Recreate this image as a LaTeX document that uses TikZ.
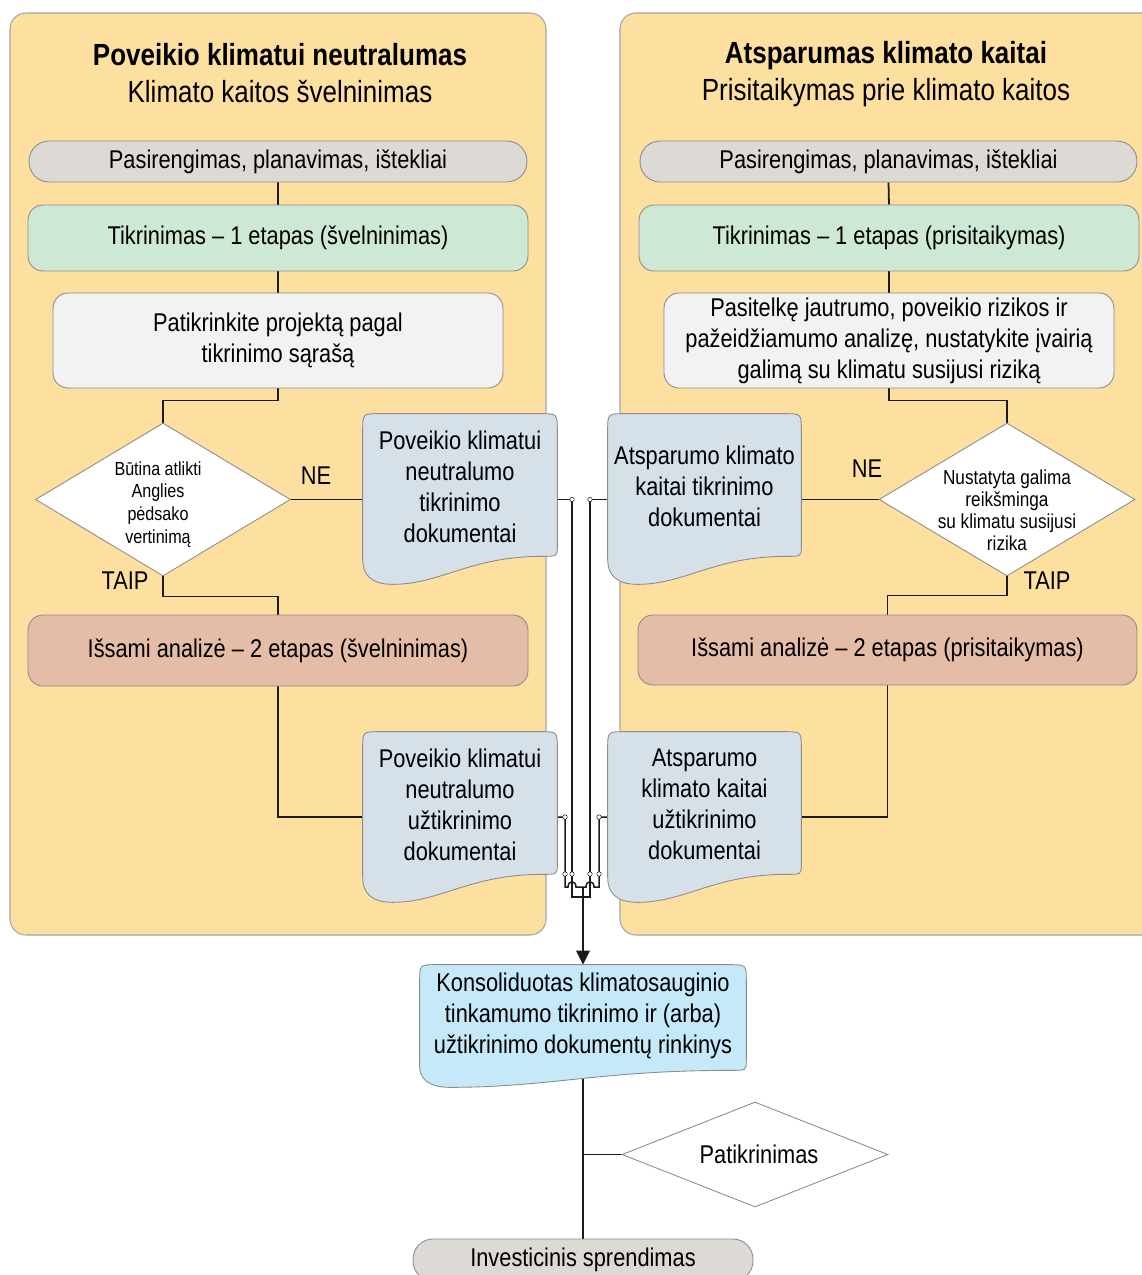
\documentclass[tikz,border=0pt]{standalone}
\usepackage{fontspec}
\setmainfont[FakeStretch=0.85]{Liberation Sans}
\usetikzlibrary{shapes.geometric,calc,arrows.meta}

\definecolor{panel}{HTML}{FDDFA0}
\definecolor{panelline}{HTML}{A6A6A6}
\definecolor{prep}{HTML}{DDD9D5}
\definecolor{screen}{HTML}{CDE8D5}
\definecolor{check}{HTML}{F2F2F2}
\definecolor{detail}{HTML}{E4BCA8}
\definecolor{docfill}{HTML}{D6E0E8}
\definecolor{consfill}{HTML}{C5E9F8}
\definecolor{edge}{HTML}{8C8C8C}
\definecolor{wirecol}{HTML}{1A1A1A}

\pgfdeclarelayer{panels}
\pgfdeclarelayer{wires}
\pgfdeclarelayer{docs}
\pgfsetlayers{panels,wires,docs,main}

\newcommand{\bodyfont}{\fontsize{14.6}{17.6}\selectfont}
\newcommand{\headfont}{\fontsize{17.4}{21}\selectfont}

% document symbol drawn behind a named text node:
% #1 node, #2 fill, #3 depth of the wave trough, #4 height of the wave crest
\newcommand{\docshape}[4]{%
  \begin{pgfonlayer}{docs}
  \path[draw=edge, line width=0.5pt, fill=#2]
    (#1.south west) -- ($(#1.north west)+(0,17)$)
    .. controls (#1.north west) .. ($(#1.north west)+(17,0)$)
    -- ($(#1.north east)+(-17,0)$)
    .. controls (#1.north east) .. ($(#1.north east)+(0,17)$)
    -- ($(#1.south east)+(0,#4-10)$)
    .. controls ($(#1.south east)+(0,#4)$) .. ($(#1.south east)+(-15,#4)$)
    .. controls ($(#1.south west)!0.55!(#1.south east)+(0,#4)$)
           and ($(#1.south west)!0.4!(#1.south east)+(0,#3)$) .. ($(#1.south west)+(30,#3)$)
    .. controls ($(#1.south west)+(8,#3)$) and ($(#1.south west)+(0,#3-10)$) .. (#1.south west)
    -- cycle;
  \end{pgfonlayer}}

\tikzset{
  stage/.style={rectangle, rounded corners=0.3cm, draw=edge, line width=0.5pt,
    inner sep=0pt, align=center, font=\bodyfont},
  pill/.style={stage, fill=prep, rounded corners=0.4cm},
  decision/.style={diamond, draw=edge, fill=white, line width=0.5pt, inner sep=0pt},
  dtext/.style={align=center, inner sep=0pt},
  doctext/.style={rectangle, inner sep=0pt, align=center, font=\bodyfont},
  lbl/.style={inner sep=0pt, font=\bodyfont},
  head/.style={inner sep=0pt, align=center, font=\headfont},
  wire/.style={draw=wirecol, line width=1pt},
  thinwire/.style={draw=wirecol, line width=0.85pt},
  hub/.style={draw=wirecol, fill=white, line width=0.3pt},
  panelbox/.style={fill=panel, draw=panelline, line width=0.6pt, rounded corners=0.32cm}
}

\begin{document}
\begin{tikzpicture}[x=0.02cm, y=-0.02cm]
\useasboundingbox (0,0) rectangle (1142,1275);

% ---------- the two panels ----------
\begin{pgfonlayer}{panels}
  \path[panelbox] (10,13) rectangle (546,935);
  \path[panelbox] (620,13) rectangle (1190,935);
\end{pgfonlayer}

% ---------- mitigation column ----------
\node[head] (h1) at (280,73) {\textbf{Poveikio klimatui neutralumas}\\Klimato kaitos švelninimas};
\node[pill, minimum width=9.96cm, minimum height=0.82cm] (p1) at (278,161.5) {Pasirengimas, planavimas, ištekliai};
\node[stage, fill=screen, minimum width=10cm, minimum height=1.32cm] (t1) at (278,238) {Tikrinimas – 1 etapas (švelninimas)};
\node[stage, fill=check, minimum width=9cm, minimum height=1.9cm] (c1) at (278,340.5) {Patikrinkite projektą pagal\\tikrinimo sąrašą};
\node[decision, minimum width=5.1cm, minimum height=3.06cm,
  label={[dtext, xshift=-0.1cm, yshift=-0.1cm, font=\fontsize{10.8}{13}\selectfont]center:{Būtina atlikti\\Anglies\\pėdsako\\vertinimą}}] (dia1) at (163,499.5) {};
\node[doctext, minimum width=3.88cm, minimum height=2.9cm] (doc1) at (460,486.5) {Poveikio klimatui\\neutralumo\\tikrinimo\\dokumentai};
\node[stage, fill=detail, minimum width=10cm, minimum height=1.42cm] (a1) at (278,650.5) {Išsami analizė – 2 etapas (švelninimas)};
\node[doctext, minimum width=3.88cm, minimum height=2.9cm] (doc2) at (460,804.5) {Poveikio klimatui\\neutralumo\\užtikrinimo\\dokumentai};
\node[lbl] (ne1) at (316,476) {NE};
\node[lbl] (tp1) at (125,581) {TAIP};

% ---------- adaptation column ----------
\node[head] (h2) at (886,74) {\textbf{Atsparumas klimato kaitai}\\Prisitaikymas prie klimato kaitos};
\node[pill, minimum width=9.94cm, minimum height=0.82cm] (p2) at (888.5,161.5) {Pasirengimas, planavimas, ištekliai};
\node[stage, fill=screen, minimum width=10cm, minimum height=1.32cm] (t2) at (889,238) {Tikrinimas – 1 etapas (prisitaikymas)};
\node[stage, fill=check, minimum width=9cm, minimum height=1.9cm] (c2) at (889,340.5) {Pasitelkę jautrumo, poveikio rizikos ir\\pažeidžiamumo analizę, nustatykite įvairią\\galimą su klimatu susijusi riziką};
\node[decision, minimum width=5.12cm, minimum height=3.06cm,
  label={[dtext, yshift=-0.22cm, font=\fontsize{11.5}{12.6}\selectfont]center:{Nustatyta galima\\reikšminga\\su klimatu susijusi\\rizika}}] (dia2) at (1007,499.5) {};
\node[doctext, minimum width=3.86cm, minimum height=2.9cm] (doc3) at (704.5,486.5) {Atsparumo klimato\\kaitai tikrinimo\\dokumentai};
\node[stage, fill=detail, minimum width=9.98cm, minimum height=1.4cm] (a2) at (887.5,650) {Išsami analizė – 2 etapas (prisitaikymas)};
\node[doctext, minimum width=3.86cm, minimum height=2.9cm] (doc4) at (704.5,804.5) {Atsparumo\\klimato kaitai\\užtikrinimo\\dokumentai};
\node[lbl] (ne2) at (867,469) {NE};
\node[lbl] (tp2) at (1047,581) {TAIP};

% ---------- consolidation and decision ----------
\node[doctext, minimum width=6.52cm, minimum height=2.04cm] (cons) at (583,1016) {Konsoliduotas klimatosauginio\\tinkamumo tikrinimo ir (arba)\\užtikrinimo dokumentų rinkinys};
\node[decision, minimum width=5.32cm, minimum height=2.1cm,
  label={[dtext, xshift=0.08cm, font=\bodyfont]center:Patikrinimas}] (pat) at (755,1154.5) {};
\node[pill, minimum width=6.8cm, minimum height=0.84cm] (inv) at (583,1260) {Investicinis sprendimas};

% document symbols
\docshape{doc1}{docfill}{25}{-3}
\docshape{doc2}{docfill}{25}{-3}
\docshape{doc3}{docfill}{25}{-3}
\docshape{doc4}{docfill}{25}{-3}
\docshape{cons}{consfill}{20}{3}

% ---------- connectors ----------
\coordinate (d2e) at ($(doc2.east)+(0,12.5)$);
\coordinate (d2w) at ($(doc2.west)+(0,12.5)$);
\coordinate (d4e) at ($(doc4.east)+(0,12.5)$);
\coordinate (d4w) at ($(doc4.west)+(0,12.5)$);
\coordinate (b1) at (572,499.5);  \coordinate (b1e) at (572,897);
\coordinate (b3) at (590,499.5);  \coordinate (b3e) at (590,897);
\coordinate (b2) at (565,817);    \coordinate (b2e) at (565,887);
\coordinate (b4) at (599,817);    \coordinate (b4e) at (599,887);
\coordinate (jn) at (583,887);    \coordinate (jnlow) at (583,897);

\begin{pgfonlayer}{wires}
  \draw[wire] (p1.south) -- (t1.north);
  \draw[wire] (t1.south) -- (c1.north);
  \draw[wire] (c1.south) -- ++(0,12) -| (dia1.north);
  \draw[wire] (dia1.east) -- (dia1.east -| doc1.west);
  \draw[wire] (dia1.south) -- ++(0,20) -| (a1.north);
  \draw[wire] (a1.south) |- (d2w);

  \draw[wire] (p2.south) -- (t2.north);
  \draw[wire] (t2.south) -- (c2.north);
  \draw[wire] (c2.south) -- ++(0,12) -| (dia2.north);
  \draw[wire] (dia2.west) -- (dia2.west -| doc3.east);
  \draw[wire] (dia2.south) -- ++(0,19) -| (a2.north);
  \draw[wire] (a2.south) |- (d4e);

  \draw[thinwire] (dia1.east -| doc1.east) -- (b1) -- (b1e) -- (jnlow);
  \draw[thinwire] (dia2.west -| doc3.west) -- (b3) -- (b3e) -- (jnlow);
  \draw[thinwire] (d2e) -- (b2) -- (b2e) -- (568,887) .. controls (568,880) and (576,880) .. (576,887) -- (jn);
  \draw[thinwire] (d4w) -- (b4) -- (b4e) -- (594,887) .. controls (594,880) and (586,880) .. (586,887) -- (jn);
  \draw[wire, -{Triangle[length=0.28cm, width=0.27cm]}] (jn) -- (cons.north);

  \draw[wire] (cons.south) -- (inv.north);
  \draw[wire] (pat.west -| cons.south) -- (pat.west);
\end{pgfonlayer}

% connection points on the collecting lines
\foreach \p in {(572,499.5),(590,499.5),(565,817),(599,817),(565,874),(572,874),(590,874),(599,874)}
  \path[hub] \p circle (0.045cm);

\end{tikzpicture}
\end{document}
